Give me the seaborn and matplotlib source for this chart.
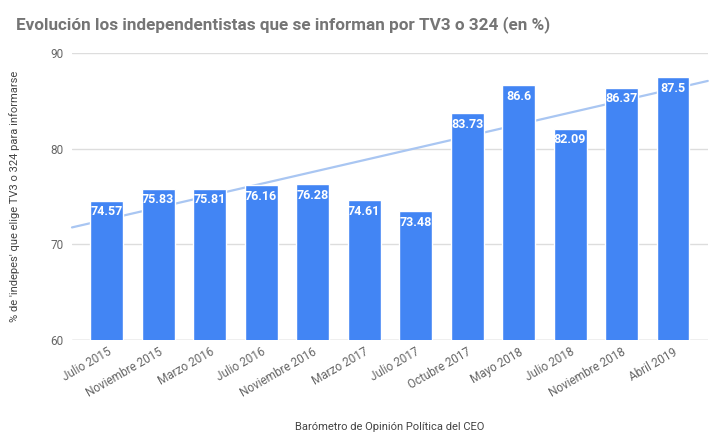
import numpy as np
import pandas as pd
import seaborn as sns
from matplotlib import pyplot as plt

# data
periodos = ['Julio 2015', 'Noviembre 2015', 'Marzo 2016', 'Julio 2016', 'Noviembre 2016',
            'Marzo 2017', 'Julio 2017', 'Octubre 2017', 'Mayo 2018', 'Julio 2018',
            'Noviembre 2018', 'Abril 2019']
porcentaje = [74.57, 75.83, 75.81, 76.16, 76.28, 74.61, 73.48, 83.73, 86.6, 82.09, 86.37, 87.5]
etiquetas = ['74.57', '75.83', '75.81', '76.16', '76.28', '74.61', '73.48', '83.73', '86.6',
             '82.09', '86.37', '87.5']

df = pd.DataFrame({'periodo': periodos, 'pct': porcentaje})

sns.set_style('white')
plt.rcParams['font.family'] = ['Roboto', 'DejaVu Sans']

fig = plt.figure(figsize=(7.2, 4.41), dpi=100)
ax = fig.add_axes([0.1, 0.229, 0.883, 0.651])

sns.barplot(data=df, x='periodo', y='pct', color='#4285f4', saturation=1, width=0.64, ax=ax, zorder=3)

n = len(porcentaje)
x0, x1 = -0.675, n - 1 + 0.675

# linear trendline
xs = np.arange(n)
m, b = np.polyfit(xs, porcentaje, 1)
xl = np.array([x0, x1])
ax.plot(xl, m * xl + b, color='#a9c6f2', lw=1.6, zorder=2, clip_on=False)

for i, v in enumerate(porcentaje):
    ax.text(i, v - 0.5, etiquetas[i], ha='center', va='top', color='white',
            fontsize=9, fontweight='bold', zorder=4)

ax.set_xlim(x0, x1)
ax.set_ylim(60, 90)
ax.set_yticks([60, 70, 80, 90])
ax.yaxis.grid(True, color='#dddddd', lw=1, zorder=0)
for s in ax.spines.values():
    s.set_visible(False)
ax.axhline(60, color='#cccccc', lw=1, zorder=1)
ax.tick_params(axis='y', length=0, labelsize=8.5, labelcolor='#666666', pad=6)
ax.tick_params(axis='x', length=0, labelsize=8.5, labelcolor='#666666', pad=4)
plt.setp(ax.get_xticklabels(), rotation=30, ha='right', rotation_mode='anchor')

ax.set_xlabel('Barómetro de Opinión Política del CEO', fontsize=8, color='#444444', labelpad=16)
ax.set_ylabel("% de 'indepes' que elige TV3 o 324 para informarse", fontsize=8,
              color='#444444', labelpad=22)

fig.text(0.022, 0.945, 'Evolución los independentistas que se informan por TV3 o 324 (en %)',
         fontsize=12.3, fontweight='bold', color='#757575', va='center')

fig.savefig('out.png', dpi=100, facecolor='white')
